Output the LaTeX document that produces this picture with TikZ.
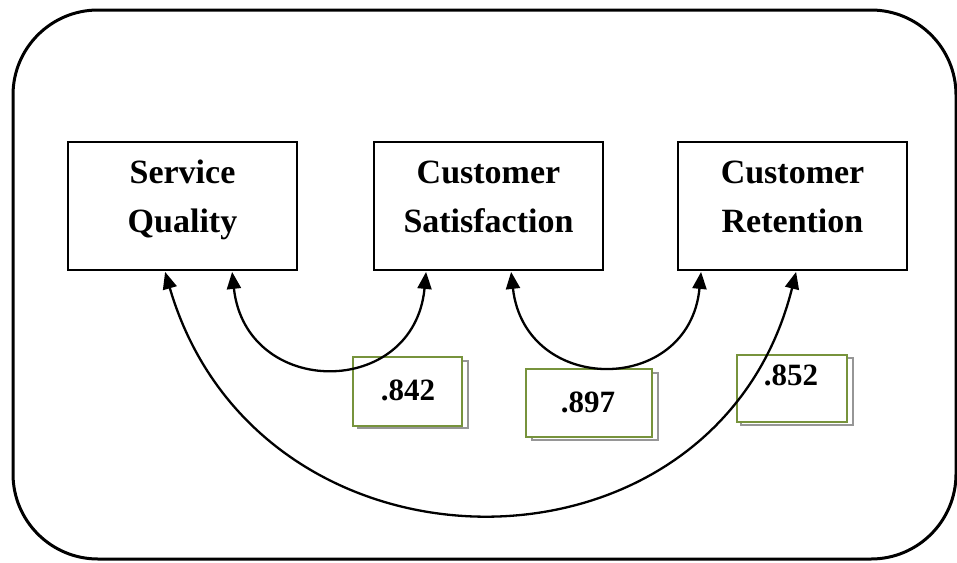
\documentclass[tikz,border=0pt]{standalone}
\usepackage{fontspec}
\setmainfont{Liberation Serif}
\usetikzlibrary{arrows.meta}
\definecolor{olivegreen}{RGB}{119,147,60}
\definecolor{shadowgray}{RGB}{150,150,150}
\begin{document}
\begin{tikzpicture}[x=1pt,y=-1pt,
  frame/.style={line width=3pt, rounded corners=85pt},
  varbox/.style={draw, line width=1.8pt, minimum width=229pt, minimum height=128pt, inner sep=0pt},
  vartext/.style={font=\fontsize{34}{40}\selectfont\bfseries, anchor=base, inner sep=0pt},
  numtext/.style={font=\fontsize{31}{36}\selectfont\bfseries, anchor=base, inner sep=0pt},
  greenbox/.style={draw=olivegreen, line width=1.8pt, fill=white, inner sep=0pt},
  graybox/.style={draw=shadowgray, line width=1.8pt, fill=white, inner sep=0pt},
  corr/.style={line width=2.3pt, {Triangle[length=17pt,width=14pt]}-{Triangle[length=17pt,width=14pt]}}
]
\useasboundingbox (0,0) rectangle (957,562);
\draw[frame] (13,10) rectangle (956,559);

% variable boxes
\node[varbox] (sq) at (182.5,206) {};
\node[varbox] (cs) at (488.5,206) {};
\node[varbox] (cr) at (792.5,206) {};
\node[vartext] (sq1) at (182.5,183) {Service};
\node[vartext] (sq2) at (182.5,232) {Quality};
\node[vartext] (cs1) at (488.5,183) {Customer};
\node[vartext] (cs2) at (488.5,232) {Satisfaction};
\node[vartext] (cr1) at (792.5,183) {Customer};
\node[vartext] (cr2) at (792.5,232) {Retention};

% value boxes
\node[graybox, minimum width=110pt, minimum height=67pt] (s1) at (413,394.5) {};
\node[greenbox, minimum width=109pt, minimum height=69pt] (b1) at (407.5,391.5) {};
\node[numtext] (v1) at (408,400) {.842};

\node[graybox, minimum width=126pt, minimum height=67pt] (s2) at (595,406.5) {};
\node[greenbox, minimum width=126pt, minimum height=68pt] (b2) at (589,403) {};
\node[numtext] (v2) at (588,412) {.897};

\node[graybox, minimum width=112pt, minimum height=67pt] (s3) at (797,391.5) {};
\node[greenbox, minimum width=110pt, minimum height=67pt] (b3) at (792,388.5) {};
\node[numtext] (v3) at (791,385) {.852};

% arrow end points
\path (sq.south west) ++(98,1) coordinate (sqa);
\path (sq.south west) ++(165,1) coordinate (sqb);
\path (cs.south west) ++(53,1) coordinate (csa);
\path (cs.south west) ++(138,1) coordinate (csb);
\path (cr.south west) ++(24,1) coordinate (cra);
\path (cr.south west) ++(119,1) coordinate (crb);

% correlation arcs
\draw[corr] (sqb) .. controls (246,399) and (414,399) .. (csa);
\draw[corr] (csb) .. controls (525,396) and (689,396) .. (cra);
\draw[corr] (sqa) .. controls (259,593) and (716,593) .. (crb);
\end{tikzpicture}
\end{document}
